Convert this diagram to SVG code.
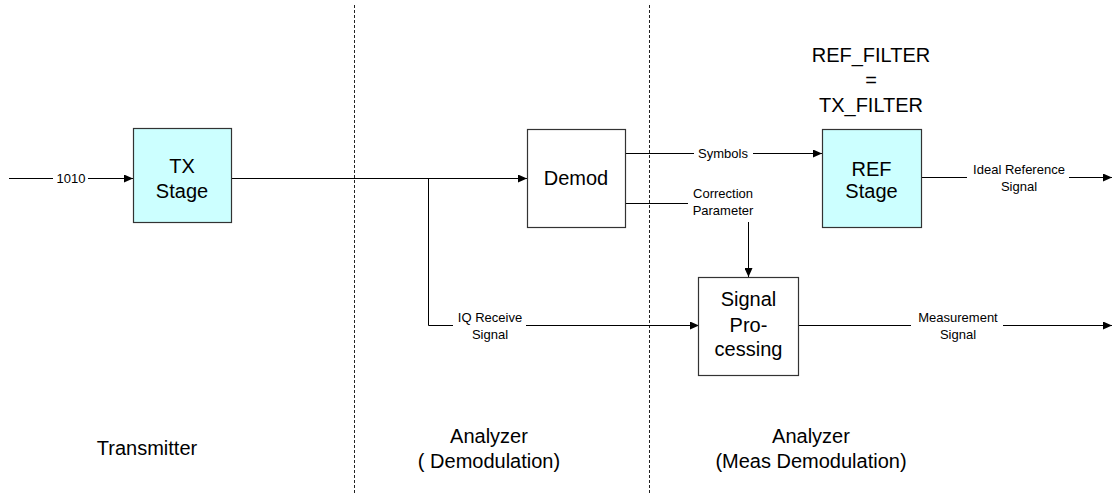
<svg xmlns="http://www.w3.org/2000/svg" width="1113" height="494" viewBox="0 0 1113 494">
<style>
text{font-family:"Liberation Sans",Arial,sans-serif;fill:#000;text-anchor:middle}
.big{font-size:20px}
.small{font-size:13px}
.box{stroke:#333;stroke-width:1.2}
.cyan{fill:#ccffff}
.white{fill:#fff}
.ln{stroke:#000;stroke-width:1;fill:none}
.dash{stroke:#222;stroke-width:1;stroke-dasharray:3,2;fill:none}
</style>
<defs>
<marker id="arr" markerWidth="10" markerHeight="8" refX="9" refY="4" orient="auto" markerUnits="userSpaceOnUse">
<path d="M0,0 L9,4 L0,8 Z" fill="#000"/>
</marker>
</defs>
<rect width="1113" height="494" fill="#fff"/>
<g id="dividers">
<line class="dash" x1="354.5" y1="5" x2="354.5" y2="494"/>
<line class="dash" x1="649.5" y1="5" x2="649.5" y2="494"/>
</g>
<g id="connectors">
<line class="ln" x1="9" y1="178.5" x2="53" y2="178.5"/>
<line class="ln" x1="88" y1="178.5" x2="133" y2="178.5" marker-end="url(#arr)"/>
<text class="small" x="71" y="183">1010</text>
<line class="ln" x1="231" y1="178.5" x2="527" y2="178.5" marker-end="url(#arr)"/>
<polyline class="ln" points="428.5,178.5 428.5,325.5 453,325.5"/>
<line class="ln" x1="526" y1="325.5" x2="699" y2="325.5" marker-end="url(#arr)"/>
<text class="small" x="490" y="322">IQ Receive</text>
<text class="small" x="490" y="339">Signal</text>
<line class="ln" x1="625" y1="153.5" x2="694" y2="153.5"/>
<line class="ln" x1="753" y1="153.5" x2="822" y2="153.5" marker-end="url(#arr)"/>
<text class="small" x="723" y="158">Symbols</text>
<line class="ln" x1="625" y1="203.5" x2="688" y2="203.5"/>
<text class="small" x="723" y="198">Correction</text>
<text class="small" x="723" y="215">Parameter</text>
<line class="ln" x1="748.5" y1="222" x2="748.5" y2="277" marker-end="url(#arr)"/>
<line class="ln" x1="921" y1="177.5" x2="967" y2="177.5"/>
<line class="ln" x1="1069" y1="177.5" x2="1112" y2="177.5" marker-end="url(#arr)"/>
<text class="small" x="1019" y="174">Ideal Reference</text>
<text class="small" x="1019" y="191">Signal</text>
<line class="ln" x1="799" y1="325.5" x2="911" y2="325.5"/>
<line class="ln" x1="1003" y1="325.5" x2="1112" y2="325.5" marker-end="url(#arr)"/>
<text class="small" x="958" y="322">Measurement</text>
<text class="small" x="958" y="339">Signal</text>
</g>
<g id="tx-stage">
<rect class="box cyan" x="133.5" y="128.5" width="98" height="94"/>
<text class="big" x="182" y="173">TX</text>
<text class="big" x="182" y="198">Stage</text>
</g>
<g id="demod">
<rect class="box white" x="527.5" y="129.5" width="98" height="98"/>
<text class="big" x="576" y="185">Demod</text>
</g>
<g id="ref-stage">
<rect class="box cyan" x="822.5" y="129.5" width="99" height="98"/>
<text class="big" x="871.5" y="176">REF</text>
<text class="big" x="871.5" y="198">Stage</text>
</g>
<g id="signal-processing">
<rect class="box white" x="698.5" y="277.5" width="100" height="98"/>
<text class="big" x="748.5" y="306">Signal</text>
<text class="big" x="748.5" y="332">Pro-</text>
<text class="big" x="748.5" y="356">cessing</text>
</g>
<g id="filter-note">
<text class="big" x="871" y="62">REF_FILTER</text>
<text class="big" x="871" y="87">=</text>
<text class="big" x="871" y="112">TX_FILTER</text>
</g>
<g id="section-labels">
<text class="big" x="147" y="455">Transmitter</text>
<text class="big" x="489" y="443">Analyzer</text>
<text class="big" x="489" y="468">( Demodulation)</text>
<text class="big" x="811" y="443">Analyzer</text>
<text class="big" x="811" y="468">(Meas Demodulation)</text>
</g>
</svg>
